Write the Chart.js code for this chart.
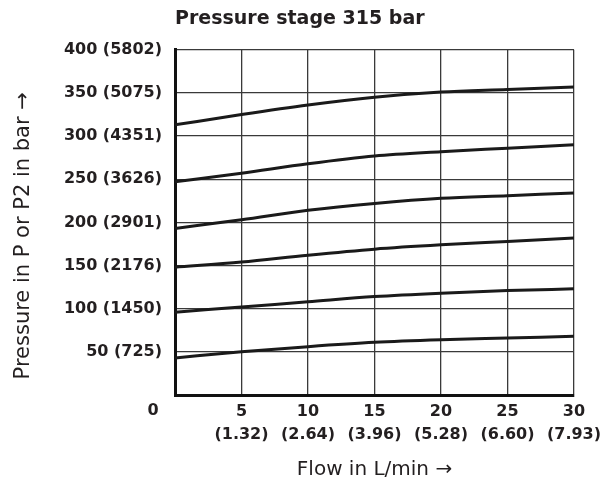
<!DOCTYPE html>
<html>
<head>
<meta charset="utf-8">
<script src="https://cdn.jsdelivr.net/npm/chart.js@4"></script>
<style>
  body { margin: 0; background: #fff; }
</style>
</head>
<body>
<canvas id="myChart" width="609" height="483"></canvas>
<script>
// flow in L/min where the curves were read
const flow = [0, 5, 10, 15, 20, 25, 30];
// gpm equivalents printed under the flow ticks
const flowGpm = ['', '(1.32)', '(2.64)', '(3.96)', '(5.28)', '(6.60)', '(7.93)'];
// bar ticks and their psi labels
const pressureTicks = [0, 50, 100, 150, 200, 250, 300, 350, 400];
const pressurePsi = ['', '(725)', '(1450)', '(2176)', '(2901)', '(3626)', '(4351)', '(5075)', '(5802)'];
const originLabel = '0';

// one curve per setting (bar)
const curve1 = [313, 325, 336, 345, 351, 354, 357];
const curve2 = [247, 257, 268, 277, 282, 286, 290];
const curve3 = [193, 203, 214, 222, 228, 231, 234];
const curve4 = [148, 154, 162, 169, 174, 178, 182];
const curve5 = [96, 102, 108, 114, 118, 121, 123];
const curve6 = [43, 50, 56, 61, 64, 66, 68];

const ink = '#231f20';
const fontFam = "'DejaVu Sans', sans-serif";

const toPoints = vals => vals.map((v, i) => ({x: flow[i], y: v}));
const makeSet = vals => ({
    data: toPoints(vals),
    borderColor: '#1a1a1a',
    borderWidth: 3,
    pointRadius: 0,
    fill: false,
    cubicInterpolationMode: 'monotone'
});

const originPlugin = {
    id: 'originLabel',
    afterDraw(chart) {
        const ctx = chart.ctx;
        const x = chart.scales.x;
        const y = chart.scales.y;
        ctx.save();
        ctx.font = 'bold 16px ' + fontFam;
        ctx.fillStyle = ink;
        ctx.textAlign = 'center';
        ctx.textBaseline = 'middle';
        ctx.fillText(originLabel, x.left - 22, y.bottom + 16);
        ctx.restore();
    }
};

const ctx = document.getElementById('myChart').getContext('2d');
const myChart = new Chart(ctx, {
    type: 'line',
    data: {
        datasets: [curve1, curve2, curve3, curve4, curve5, curve6].map(makeSet)
    },
    options: {
        responsive: false,
        animation: false,
        layout: { padding: { left: 0, right: 35, top: 0, bottom: 0 } },
        plugins: {
            legend: { display: false },
            tooltip: { enabled: false },
            title: {
                display: true,
                text: 'Pressure stage 315 bar',
                align: 'start',
                fullSize: false,
                color: ink,
                font: { family: fontFam, size: 19, weight: 'bold' },
                padding: { top: 8, bottom: 19 }
            }
        },
        scales: {
            x: {
                type: 'linear',
                min: 0,
                max: 30,
                afterFit: s => { s.height = 88; },
                border: { display: true, width: 3, color: '#111' },
                grid: { color: '#3a3a3a', lineWidth: 1.3, drawTicks: false },
                ticks: {
                    stepSize: 5,
                    padding: 5,
                    maxRotation: 0,
                    color: ink,
                    font: { family: fontFam, size: 16, weight: 'bold', lineHeight: 1.44 },
                    callback: v => {
                        const i = flow.indexOf(v);
                        if (i <= 0) return '';
                        return [String(v), flowGpm[i]];
                    }
                },
                title: {
                    display: true,
                    text: 'Flow in L/min \u2192',
                    color: ink,
                    font: { family: fontFam, size: 20 },
                    padding: { top: 0, bottom: 1 }
                }
            },
            y: {
                min: 0,
                max: 400,
                afterFit: s => { s.width = 175; },
                border: { display: true, width: 3, color: '#111' },
                grid: { color: '#3a3a3a', lineWidth: 1.3, drawTicks: false },
                ticks: {
                    stepSize: 50,
                    padding: 13,
                    color: ink,
                    font: { family: fontFam, size: 16, weight: 'bold' },
                    callback: v => {
                        const i = pressureTicks.indexOf(v);
                        if (i <= 0) return '';
                        return v + ' ' + pressurePsi[i];
                    }
                },
                title: {
                    display: true,
                    text: 'Pressure in P or P2 in bar \u2192\u00a0\u00a0\u00a0\u00a0',
                    color: ink,
                    font: { family: fontFam, size: 21 },
                    padding: { top: 11, bottom: 0 }
                }
            }
        }
    },
    plugins: [originPlugin]
});
</script>
</body>
</html>
